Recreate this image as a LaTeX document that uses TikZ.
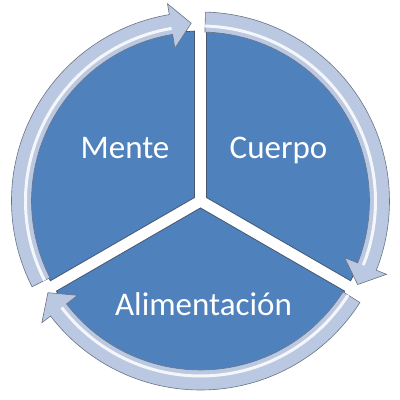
\documentclass[tikz,border=0pt]{standalone}
\usepackage{fontspec}
\setsansfont{Carlito}
\usepackage{xcolor}
\usepackage{tikz}
\usetikzlibrary{calc}

\definecolor{segblue}{RGB}{79,129,189}
\definecolor{segedge}{RGB}{70,88,115}
\definecolor{ringfill}{RGB}{186,200,226}
\definecolor{ringedge}{RGB}{105,115,135}

\tikzset{
  segment/.style={fill=segblue, draw=segedge, line width=0.8pt},
  ringarrow/.style={fill=ringfill, draw=ringedge, line width=0.6pt, line join=miter},
  shine/.style={white, line width=3pt, opacity=0.85},
  seglabel/.style={text=white, anchor=base, font=\sffamily\fontsize{33}{40}\selectfont}
}

\begin{document}
\begin{tikzpicture}[x=1pt,y=1pt]
    \useasboundingbox (-200.5,-199) rectangle (199.5,201);

    % Segments
    \foreach \a in {-30,90,210}
    \draw[segment] ({\a+60}:6.93pt) -- ({\a+2.02}:170pt)
      arc[start angle={\a+2.02}, end angle={\a+117.98}, radius=170pt] -- cycle;

    % Arrows (tail / tip)
    \foreach \t/\e in {207/93, 88.5/-28, -32.5/-149}{
    \draw[ringarrow] (\t:189pt) arc[start angle=\t, end angle={\e+6.5}, radius=189pt]
      -- ({\e+6.5}:200pt) -- (\e:178pt) -- ({\e+6.5}:155pt) -- ({\e+6.5}:169pt)
      arc[start angle={\e+6.5}, end angle=\t, radius=169pt] -- cycle;
    \draw[shine] (\t:175pt) arc[start angle=\t, end angle={\e+6.5}, radius=175pt];
    }

    % Labels
    \node[seglabel] (mente) at (-75.5,43) {Mente};
    \node[seglabel] (cuerpo) at (78,43) {Cuerpo};
    \node[seglabel] (alim) at (3,-114) {Alimentación};
\end{tikzpicture}
\end{document}
